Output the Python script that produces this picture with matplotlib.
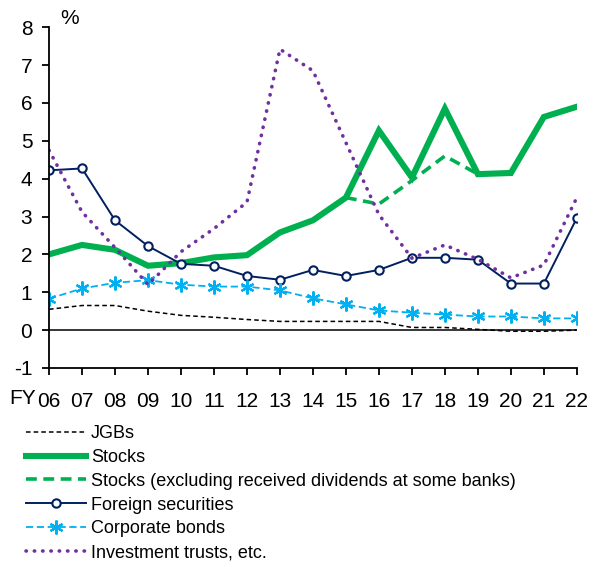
import matplotlib
matplotlib.use("Agg")
import matplotlib.pyplot as plt
import numpy as np

plt.rcParams['font.family'] = ['Liberation Sans', 'DejaVu Sans']
plt.rcParams['axes.unicode_minus'] = False

years = ['06', '07', '08', '09', '10', '11', '12', '13', '14', '15', '16', '17', '18', '19', '20', '21', '22']
jgbs = [0.55, 0.65, 0.65, 0.50, 0.39, 0.34, 0.28, 0.23, 0.23, 0.23, 0.23, 0.07, 0.07, 0.02, -0.03, -0.03, 0.0]
stocks = [2.0, 2.25, 2.12, 1.7, 1.77, 1.92, 1.98, 2.58, 2.9, 3.5, 5.27, 4.03, 5.85, 4.12, 4.15, 5.63, 5.9]
stocks_ex_years = ['15', '16', '17', '18', '19']
stocks_ex = [3.5, 3.33, 3.95, 4.6, 4.12]
foreign = [4.22, 4.27, 2.9, 2.22, 1.75, 1.7, 1.43, 1.33, 1.59, 1.43, 1.59, 1.91, 1.91, 1.86, 1.23, 1.23, 2.96]
corporate = [0.83, 1.1, 1.25, 1.32, 1.2, 1.15, 1.15, 1.05, 0.84, 0.68, 0.52, 0.46, 0.41, 0.36, 0.36, 0.31, 0.31]
trusts = [4.75, 3.12, 2.18, 1.2, 2.07, 2.68, 3.38, 7.42, 6.85, 4.95, 3.05, 1.9, 2.25, 1.87, 1.38, 1.72, 3.5]

fig = plt.figure(figsize=(6.13, 5.67), dpi=100)
ax = fig.add_axes([0.08, 0.351, 0.861, 0.601])

ax.axhline(0, color='black', lw=1.1, zorder=1)
ax.plot(years, jgbs, color='black', lw=1.1, ls=(0, (3, 2)), label='JGBs')
ax.plot(years, stocks, color='#00b050', lw=4.4, solid_joinstyle='miter', label='Stocks')
ax.plot(stocks_ex_years, stocks_ex, color='#00b050', lw=2.6, ls=(0, (3, 1.8)),
        label='Stocks (excluding received dividends at some banks)')
ax.plot(years, foreign, color='#002060', lw=1.4, marker='o', ms=6, mfc='white',
        mec='#002060', mew=1.5, label='Foreign securities')
ax.plot(years, corporate, color='#00b0f0', lw=1.3, ls=(0, (4, 2)), marker=(6, 2, 0),
        ms=10, mew=1.6, label='Corporate bonds')
ax.plot(years, trusts, color='#7030a0', lw=2.6, ls=(0, (0.1, 2.2)), dash_capstyle='round',
        label='Investment trusts, etc.')

ax.set_xlim(0, len(years) - 1)
ax.set_ylim(-1, 8)
ax.set_yticks(range(-1, 9))
for s in ['top', 'right']:
    ax.spines[s].set_visible(False)
for s in ['left', 'bottom']:
    ax.spines[s].set_linewidth(1.3)
ax.tick_params(axis='both', direction='out', length=5, width=1.3, labelsize=15)
ax.tick_params(axis='x', pad=12)
ax.tick_params(axis='y', pad=7)

fig.text(70 / 613, 1 - 18 / 567, '%', fontsize=15, ha='center', va='center')
fig.text(23 / 613, 1 - 399 / 567, 'FY', fontsize=15, ha='center', va='center')

ax.legend(loc='upper left', bbox_to_anchor=(26 / 613, 1 - 425 / 567),
          bbox_transform=fig.transFigure, frameon=False, fontsize=13,
          handlelength=3.3, handletextpad=0.3, labelspacing=0.38,
          borderpad=0, borderaxespad=0, numpoints=1)

fig.savefig('out.png', dpi=100)
